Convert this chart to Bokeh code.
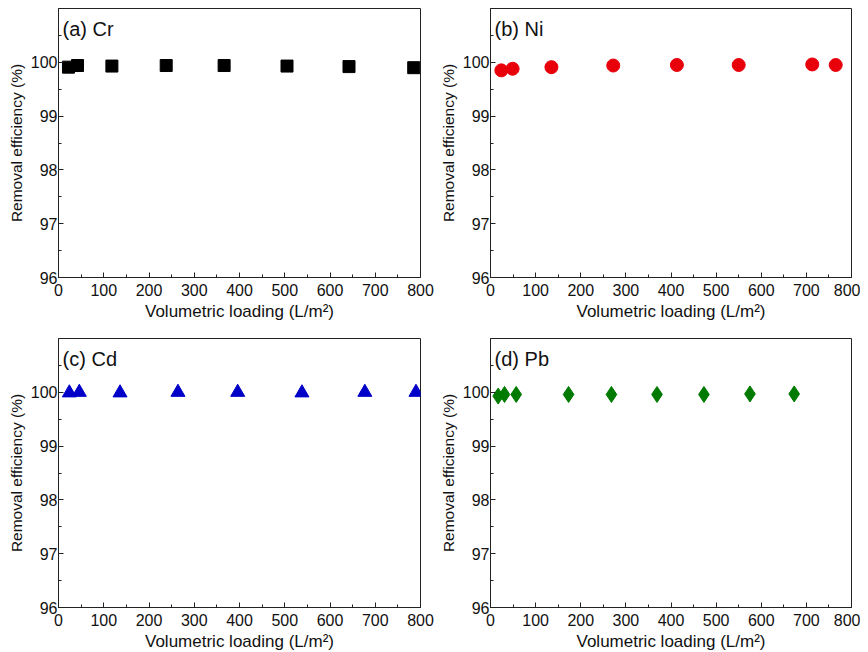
from bokeh.plotting import figure
from bokeh.layouts import gridplot
from bokeh.models import Range1d, FixedTicker, Label
from bokeh.embed import file_html
from bokeh.resources import INLINE

# ---- data ----
cr_x = [22, 42, 118, 238, 366, 505, 642, 785]
cr_y = [99.91, 99.94, 99.93, 99.94, 99.94, 99.93, 99.92, 99.90]

ni_x = [24, 49, 135, 272, 413, 550, 713, 765]
ni_y = [99.85, 99.88, 99.91, 99.94, 99.95, 99.95, 99.96, 99.95]

cd_x = [24, 46, 136, 264, 396, 538, 677, 790]
cd_y = [99.99, 100.0, 99.99, 100.0, 100.0, 99.99, 100.0, 100.0]

pb_x = [17, 31, 57, 173, 268, 369, 473, 575, 673]
pb_y = [99.93, 99.96, 99.96, 99.96, 99.96, 99.96, 99.96, 99.97, 99.97]

x_ticks = [0, 100, 200, 300, 400, 500, 600, 700, 800]
y_ticks = [96, 97, 98, 99, 100]

panel_labels = ["(a) Cr", "(b) Ni", "(c) Cd", "(d) Pb"]

FONT = "Liberation Sans"


def make_panel(xs, ys, marker, color, label, width, height, bl, br, bt, bb, size):
    p = figure(width=width, height=height, output_backend="svg", toolbar_location=None,
               x_range=Range1d(0, 800), y_range=Range1d(96, 101),
               min_border_left=bl, min_border_right=br, min_border_top=bt, min_border_bottom=bb)
    p.xgrid.visible = False
    p.ygrid.visible = False
    p.outline_line_color = "#222222"
    p.outline_line_width = 1
    p.background_fill_color = "white"
    p.border_fill_color = "white"

    for ax in (p.xaxis[0], p.yaxis[0]):
        ax.axis_line_color = "#222222"
        ax.major_tick_in = 5
        ax.major_tick_out = 0
        ax.minor_tick_in = 3
        ax.minor_tick_out = 0
        ax.major_tick_line_color = "#222222"
        ax.minor_tick_line_color = "#222222"
        ax.major_label_text_font = FONT
        ax.major_label_text_font_size = "16px"
        ax.major_label_text_color = "#111111"
        ax.axis_label_text_font = FONT
        ax.axis_label_text_font_style = "normal"
        ax.axis_label_text_color = "#111111"

    p.xaxis[0].axis_label_text_font_size = "17px"
    p.yaxis[0].axis_label_text_font_size = "15.5px"
    p.xaxis[0].ticker = FixedTicker(ticks=x_ticks, minor_ticks=list(range(0, 801, 50)))
    p.yaxis[0].ticker = FixedTicker(ticks=y_ticks, minor_ticks=[96, 96.5, 97, 97.5, 98, 98.5, 99, 99.5, 100, 100.5, 101])
    p.xaxis[0].axis_label = "Volumetric loading (L/m²)"
    p.yaxis[0].axis_label = "Removal efficiency (%)"
    p.xaxis[0].major_label_standoff = 6
    p.yaxis[0].major_label_standoff = 1
    p.xaxis[0].axis_label_standoff = 3
    p.yaxis[0].axis_label_standoff = 3

    p.scatter(xs, ys, marker=marker, size=size, fill_color=color, line_color=color)

    p.add_layout(Label(x=9, y=100.82, text=label, text_font=FONT, text_font_size="20px",
                       text_baseline="top", text_color="#111111"))
    return p


pa = make_panel(cr_x, cr_y, "square", "#000000", panel_labels[0], 435, 325, 58, 15, 8, 48, 12)
pb = make_panel(ni_x, ni_y, "circle", "#e8000b", panel_labels[1], 425, 325, 55, 9, 8, 48, 13)
pc = make_panel(cd_x, cd_y, "triangle", "#0000c8", panel_labels[2], 435, 329, 58, 15, 13, 47, 14)
pd = make_panel(pb_x, pb_y, "diamond", "#007a00", panel_labels[3], 425, 329, 55, 9, 13, 47, 16)

grid = gridplot([[pa, pb], [pc, pd]], toolbar_location=None)

open("out.html", "w").write(file_html(grid, INLINE))
